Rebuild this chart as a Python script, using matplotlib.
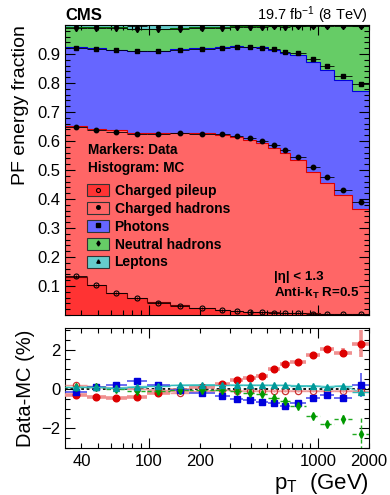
import numpy as np
import matplotlib
matplotlib.use('Agg')
import matplotlib.pyplot as plt
from matplotlib.ticker import LogLocator, FuncFormatter, MultipleLocator, NullFormatter, FixedLocator
from matplotlib.patches import Patch
from matplotlib.lines import Line2D

plt.rcParams['font.family'] = ['Liberation Sans', 'DejaVu Sans']
plt.rcParams['mathtext.fontset'] = 'custom'
plt.rcParams['mathtext.rm'] = 'Liberation Sans'
plt.rcParams['mathtext.it'] = 'Liberation Sans:italic'
plt.rcParams['mathtext.bf'] = 'Liberation Sans:bold'

# ---------------- data ----------------
pt_edges = [32, 43, 56, 74, 97, 133, 174, 245, 300, 362, 430, 507, 592, 686, 846, 1032, 1248, 1588, 2000]
pt_centers = [37, 49, 64, 85, 114, 152, 206, 271, 330, 395, 467, 548, 637, 762, 934, 1135, 1408, 1782]

# MC energy fractions per component
mc_chpu = [0.131, 0.102, 0.0765, 0.058, 0.0435, 0.033, 0.024, 0.0165, 0.014, 0.011,
           0.010, 0.009, 0.008, 0.007, 0.006, 0.005, 0.004, 0.004]
mc_chhad = [0.520, 0.540, 0.560, 0.571, 0.584, 0.596, 0.602, 0.604, 0.601, 0.594,
            0.584, 0.568, 0.549, 0.526, 0.487, 0.450, 0.410, 0.362]
mc_photon = [0.272, 0.278, 0.278, 0.280, 0.282, 0.288, 0.294, 0.302, 0.311, 0.320,
             0.329, 0.338, 0.348, 0.364, 0.379, 0.389, 0.398, 0.407]
mc_nhad = [0.070, 0.072, 0.077, 0.077, 0.078, 0.074, 0.0735, 0.0705, 0.070, 0.072,
           0.074, 0.083, 0.092, 0.101, 0.127, 0.155, 0.188, 0.223]
mc_lepton = [0.007, 0.008, 0.0105, 0.012, 0.0125, 0.010, 0.007, 0.006, 0.005, 0.004,
             0.004, 0.003, 0.003, 0.0025, 0.0025, 0.002, 0.0015, 0.0047]

# Data - MC differences (%)
diff_chpu = [0.18, 0.12, 0.05, 0.0, -0.05, -0.20, -0.10, -0.05, -0.10, -0.10,
             -0.10, -0.10, -0.10, -0.10, -0.10, -0.10, -0.10, -0.10]
diff_chhad = [-0.30, -0.41, -0.48, -0.43, -0.18, -0.05, 0.08, 0.26, 0.44, 0.55,
              0.68, 1.03, 1.26, 1.38, 1.72, 2.04, 1.85, 2.31]
diff_photon = [-0.13, 0.10, 0.21, 0.42, 0.18, -0.04, -0.20, -0.34, -0.50, -0.56,
               -0.66, -0.73, -0.84, -0.71, -0.47, -0.31, -0.45, 0.21]
diff_nhad = [0.08, 0.10, 0.0, -0.09, -0.09, -0.03, -0.05, -0.05, -0.12, -0.19,
             -0.24, -0.46, -0.61, -0.84, -1.36, -1.80, -1.55, -2.29]
diff_lepton = [0.10, 0.08, 0.05, 0.12, 0.15, 0.20, 0.22, 0.22, 0.20, 0.20,
               0.20, 0.19, 0.19, 0.17, 0.17, 0.12, 0.17, -0.17]

# statistical uncertainties on differences (%)
err_chpu = [0.05, 0.05, 0.05, 0.05, 0.05, 0.05, 0.05, 0.05, 0.05, 0.05,
            0.05, 0.05, 0.05, 0.05, 0.06, 0.08, 0.10, 0.15]
err_chhad = [0.06, 0.06, 0.06, 0.06, 0.06, 0.06, 0.06, 0.06, 0.06, 0.06,
             0.06, 0.07, 0.08, 0.09, 0.12, 0.15, 0.22, 0.70]
err_photon = [0.06, 0.06, 0.06, 0.06, 0.06, 0.06, 0.06, 0.06, 0.06, 0.06,
              0.06, 0.07, 0.08, 0.09, 0.12, 0.15, 0.20, 0.60]
err_nhad = [0.05, 0.05, 0.05, 0.05, 0.05, 0.05, 0.05, 0.05, 0.05, 0.05,
            0.06, 0.07, 0.08, 0.09, 0.12, 0.15, 0.25, 0.80]
err_lepton = [0.04, 0.04, 0.04, 0.04, 0.04, 0.04, 0.04, 0.04, 0.04, 0.04,
              0.04, 0.04, 0.04, 0.04, 0.05, 0.06, 0.08, 0.15]

labels = ['Charged pileup', 'Charged hadrons', 'Photons', 'Neutral hadrons', 'Leptons']
x_tick_labels = [40, 100, 200, 1000, 2000]

# ---------------- figure ----------------
W, H = 390, 495
fig = plt.figure(figsize=(W / 100, H / 100), dpi=100)
L, R = 65, 369
ax = fig.add_axes([L / W, (H - 315) / H, (R - L) / W, (315 - 25) / H])
ax2 = fig.add_axes([L / W, (H - 448) / H, (R - L) / W, (448 - 328) / H])

edges = np.array(pt_edges, float)
centers = np.array(pt_centers, float)
xerr = [centers - edges[:-1], edges[1:] - centers]

mc = [np.array(v) for v in (mc_chpu, mc_chhad, mc_photon, mc_nhad, mc_lepton)]
diffs = [np.array(v) for v in (diff_chpu, diff_chhad, diff_photon, diff_nhad, diff_lepton)]
errs = [np.array(v) for v in (err_chpu, err_chhad, err_photon, err_nhad, err_lepton)]
data = [m + d / 100.0 for m, d in zip(mc, diffs)]

fill_colors = ['#ff3333', '#ff6666', '#6666ff', '#66cc66', '#66cccc']
line_colors = ['#660000', '#dd0000', '#0000dd', '#006600', '#008888']
top_markers = [dict(marker='o', mfc='none', mec='k', ms=3.6, mew=0.8),
               dict(marker='o', mfc='k', mec='k', ms=3.2),
               dict(marker='s', mfc='k', mec='k', ms=3.4),
               dict(marker='d', mfc='k', mec='k', ms=3.2),
               dict(marker='^', mfc='k', mec='k', ms=3.0)]

# stacked MC histograms
base = np.zeros(len(centers))
tops = []
for m, fc in zip(mc, fill_colors):
    top = base + m
    ax.stairs(top, edges, baseline=base, fill=True, color=fc, lw=0, zorder=1)
    tops.append(top)
    base = top
for top, lc in zip(tops[:4], line_colors[:4]):
    ax.stairs(top, edges, baseline=None, color=lc, lw=0.8, zorder=2)

# data markers (cumulative)
cum = np.zeros(len(centers))
for d, mk in zip(data, top_markers):
    cum = cum + d
    ax.errorbar(centers, cum, xerr=xerr, yerr=0.004, fmt='none', ecolor='k',
                elinewidth=0.6, capsize=0, zorder=3)
    ax.plot(centers, cum, ls='none', color='k', zorder=4, **mk)

ax.set_xscale('log')
ax.set_xlim(32, 2000)
ax.set_ylim(0, 1.0)
ax.yaxis.set_major_locator(FixedLocator([0.1, 0.2, 0.3, 0.4, 0.5, 0.6, 0.7, 0.8, 0.9]))
ax.yaxis.set_minor_locator(MultipleLocator(0.02))
ax.set_ylabel('PF energy fraction', fontsize=14, loc='top', labelpad=6)

# legend
handles = []
for fc, lc, mk in zip(fill_colors, line_colors, top_markers):
    p = Patch(facecolor=fc, edgecolor='#333333', linewidth=0.8)
    l = Line2D([], [], ls='none', color='k', **{**mk, 'ms': mk['ms'] * 0.8})
    handles.append((p, l))
ax.legend(handles, labels, loc='upper left', bbox_to_anchor=(0.074, 0.452),
          frameon=False, prop={'weight': 'bold', 'size': 10},
          handlelength=1.55, handleheight=0.95, handletextpad=0.4,
          labelspacing=0.28, borderpad=0, borderaxespad=0)
ax.text(0.076, 0.569, 'Markers: Data', transform=ax.transAxes, fontsize=9.8,
        fontweight='bold', va='center', ha='left')
ax.text(0.076, 0.507, 'Histogram: MC', transform=ax.transAxes, fontsize=9.8,
        fontweight='bold', va='center', ha='left')
ax.text(0.688, 0.132, '|η| < 1.3', transform=ax.transAxes, fontsize=9.6,
        fontweight='bold', va='center', ha='left')
ax.text(0.688, 0.076, r'Anti-k$_{\mathbf{T}}$ R=0.5', transform=ax.transAxes,
        fontsize=9.6, fontweight='bold', va='center', ha='left')

fig.text(L / W, (H - 20) / H, 'CMS', fontsize=12, fontweight='bold', ha='left', va='baseline')
fig.text((R - 1) / W, (H - 20) / H, r'19.7 fb$^{-1}$ (8 TeV)', fontsize=10.5, ha='right', va='baseline')

# ---------------- ratio panel ----------------
ax2.axhline(0, color='k', ls=(0, (1.5, 1.5)), lw=1.3, zorder=1)

styles = [
    dict(fmt='o', color='#cc3333', mfc='none', mec='#cc3333', ms=4.5, mew=0.9, ecolor='#ee9999', elinewidth=1.0),
    dict(fmt='o', color='#dd0000', ms=4.8, ecolor='#f09090', elinewidth=2.6),
    dict(fmt='s', color='#0000dd', ms=4.8, ecolor='#4444ee', elinewidth=1.1),
    dict(fmt='d', color='#009900', ms=4.0, ecolor='#22aa22', elinewidth=1.0),
    dict(fmt='^', color='#009999', ms=4.8, ecolor='#33bbbb', elinewidth=1.0),
]
# connecting lines
ax2.plot(centers, diffs[0], color='#f0a0a0', lw=0.9, zorder=2)
ax2.plot(centers, diffs[4], color='#55cccc', lw=0.9, zorder=2)
draw_order = [0, 3, 4, 2, 1]
for i in draw_order:
    st = styles[i]
    cont = ax2.errorbar(centers, diffs[i], xerr=xerr, yerr=errs[i], capsize=0, zorder=3 + i, **st)
    if i == 3:
        for bl in cont[2]:
            bl.set_linestyle((0, (3, 2)))

ax2.set_xscale('log')
ax2.set_xlim(32, 2000)
ax2.set_ylim(-3.0, 3.1)
ax2.yaxis.set_major_locator(FixedLocator([-2, 0, 2]))
ax2.yaxis.set_minor_locator(MultipleLocator(0.5))
ax2.set_ylabel('Data-MC (%)', fontsize=14.5, labelpad=4)
ax2.set_xlabel(r'p$_{\mathrm{T}}$  (GeV)', fontsize=16, loc='right', labelpad=2)

for a in (ax, ax2):
    a.xaxis.set_major_locator(LogLocator(base=10, numticks=10))
    a.xaxis.set_minor_locator(LogLocator(base=10, subs=np.arange(2, 10), numticks=20))
    a.tick_params(which='both', direction='in', top=True, right=True, labelsize=12)
    a.tick_params(which='major', length=7, width=0.8)
    a.tick_params(which='minor', length=3.5, width=0.8)
    for s in a.spines.values():
        s.set_linewidth(0.8)

ax.xaxis.set_major_formatter(NullFormatter())
ax.xaxis.set_minor_formatter(NullFormatter())
fmt = FuncFormatter(lambda v, p: ('%d' % round(v)) if any(abs(v - t) < 1e-6 * t for t in x_tick_labels) else '')
ax2.xaxis.set_major_formatter(fmt)
ax2.xaxis.set_minor_formatter(fmt)
ax2.tick_params(axis='x', which='both', pad=4)

fig.savefig('out.png', dpi=100)
